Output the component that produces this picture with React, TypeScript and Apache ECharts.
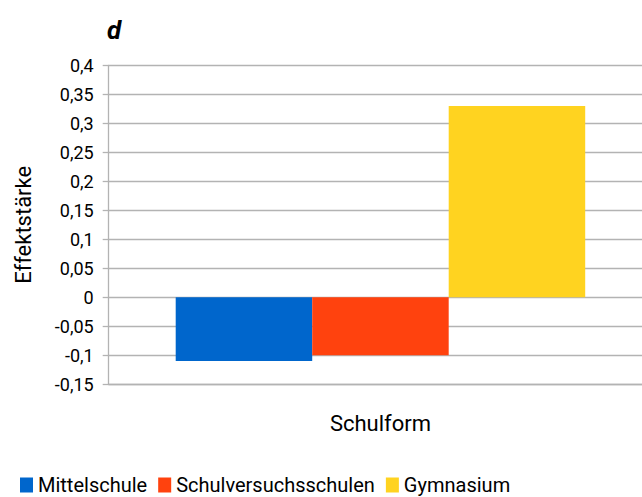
import React, { useEffect, useRef } from "react";
import * as echarts from "echarts";

const categories = ["Schulform"];
const seriesNames = ["Mittelschule", "Schulversuchsschulen", "Gymnasium"];
const seriesValues = [[-0.11], [-0.1], [0.33]];
const seriesColors = ["#0066cc", "#ff420e", "#ffd320"];
const yMin = -0.15;
const yMax = 0.4;
const yInterval = 0.05;

const FONT = "Roboto";

export default function App() {
  const ref = useRef<HTMLDivElement>(null);
  useEffect(() => {
    document.body.style.margin = "0";
    document.body.style.overflow = "hidden";
    document.documentElement.style.overflow = "hidden";
    const chart = echarts.init(ref.current!, null, { renderer: "svg" });
    chart.setOption({
      animation: false,
      backgroundColor: "#ffffff",
      title: {
        text: "d",
        left: 102,
        top: 12,
        textStyle: { fontFamily: FONT, fontSize: 26, fontWeight: "bold", fontStyle: "italic", color: "#000" },
      },
      legend: {
        left: 20,
        top: 475,
        padding: 0,
        itemWidth: 13,
        itemHeight: 15,
        itemGap: 11,
        icon: "rect",
        textStyle: { fontFamily: FONT, fontSize: 20, color: "#000" },
        data: seriesNames,
      },
      grid: { left: 108.7, top: 65.3, width: 543.5, height: 319, containLabel: false },
      xAxis: {
        type: "category",
        data: categories,
        axisLine: { onZero: false, lineStyle: { color: "#b3b3b3", width: 1.3 } },
        axisTick: { show: false },
        axisLabel: { margin: 28, fontFamily: FONT, fontSize: 22, color: "#000" },
        splitLine: { show: false },
      },
      yAxis: {
        type: "value",
        min: yMin,
        max: yMax,
        interval: yInterval,
        name: "Effektstärke",
        nameLocation: "middle",
        nameGap: 74,
        nameTextStyle: { fontFamily: FONT, fontSize: 22, color: "#000" },
        axisLine: { show: true, lineStyle: { color: "#b3b3b3", width: 1.3 } },
        axisTick: { show: true, length: 6, lineStyle: { color: "#b3b3b3", width: 1.3 } },
        axisLabel: {
          margin: 15,
          fontFamily: FONT,
          fontSize: 18,
          color: "#000",
          formatter: (v: number) => String(parseFloat(v.toFixed(2))).replace(".", ","),
        },
        splitLine: { show: true, lineStyle: { color: "#b3b3b3", width: 1.3 } },
      },
      series: seriesNames.map((name, i) => ({
        name,
        type: "bar",
        data: seriesValues[i],
        barWidth: 136.5,
        barGap: "0%",
        itemStyle: { color: seriesColors[i] },
      })),
    });
    return () => chart.dispose();
  }, []);
  return <div ref={ref} style={{ width: 662.2, height: 497 }} />;
}
